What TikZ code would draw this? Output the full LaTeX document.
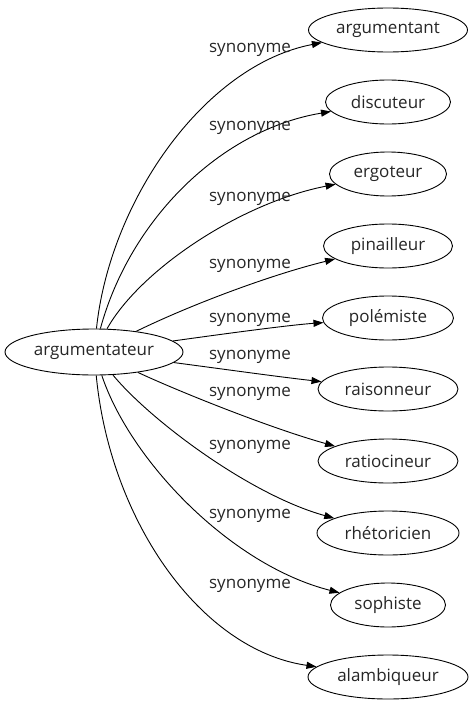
\documentclass[tikz,border=0pt]{standalone}
\usepackage{fontspec}
\setmainfont{Open Sans}
\usetikzlibrary{arrows.meta,shapes.geometric}
\begin{document}
\begin{tikzpicture}[x=1pt,y=-1pt,
  every node/.style={font=\fontsize{17}{20}\selectfont, text=black!85},
  word/.style={draw, ellipse, line width=0.9pt, inner sep=0pt, minimum height=44pt},
  rel/.style={draw, line width=0.9pt, -{Triangle[length=10pt,width=7pt]}},
  lab/.style={inner sep=0pt}]
\useasboundingbox (0,0) rectangle (472,707);
\node[word, minimum width=178pt, minimum height=46pt] (c) at (94,352) {argumentateur};
\node[word, minimum width=159pt] (n1) at (388,30) {argumentant};
\node[word, minimum width=125pt] (n2) at (388,102) {discuteur};
\node[word, minimum width=117pt] (n3) at (388,174) {ergoteur};
\node[word, minimum width=129pt] (n4) at (388,246) {pinailleur};
\node[word, minimum width=131pt] (n5) at (388,318) {polémiste};
\node[word, minimum width=140pt] (n6) at (388,389) {raisonneur};
\node[word, minimum width=140pt] (n7) at (388,461) {ratiocineur};
\node[word, minimum width=142pt] (n8) at (388,533) {rhétoricien};
\node[word, minimum width=115pt] (n9) at (388,605) {sophiste};
\node[word, minimum width=160pt] (n10) at (388,677) {alambiqueur};
\draw[rel] (c) .. controls (110,200) and (205,65) .. (n1);
\draw[rel] (c) .. controls (130,220) and (220,130) .. (n2);
\draw[rel] (c) .. controls (140,270) and (240,203) .. (n3);
\draw[rel] (c) .. controls (190,305) and (270,275) .. (n4);
\draw[rel] (c) .. controls (230,333) and (290,325) .. (n5);
\draw[rel] (c) .. controls (230,370) and (280,377) .. (n6);
\draw[rel] (c) .. controls (180,392) and (270,428) .. (n7);
\draw[rel] (c) .. controls (150,420) and (250,495) .. (n8);
\draw[rel] (c) .. controls (130,460) and (230,565) .. (n9);
\draw[rel] (c) .. controls (110,520) and (200,650) .. (n10);
\node[lab] (l1) at (250,50) {synonyme};
\node[lab] (l2) at (250,128) {synonyme};
\node[lab] (l3) at (250,199) {synonyme};
\node[lab] (l4) at (250,266) {synonyme};
\node[lab] (l5) at (250,320) {synonyme};
\node[lab] (l6) at (250,357) {synonyme};
\node[lab] (l7) at (250,394) {synonyme};
\node[lab] (l8) at (250,447) {synonyme};
\node[lab] (l9) at (250,516) {synonyme};
\node[lab] (l10) at (250,586) {synonyme};
\end{tikzpicture}
\end{document}
